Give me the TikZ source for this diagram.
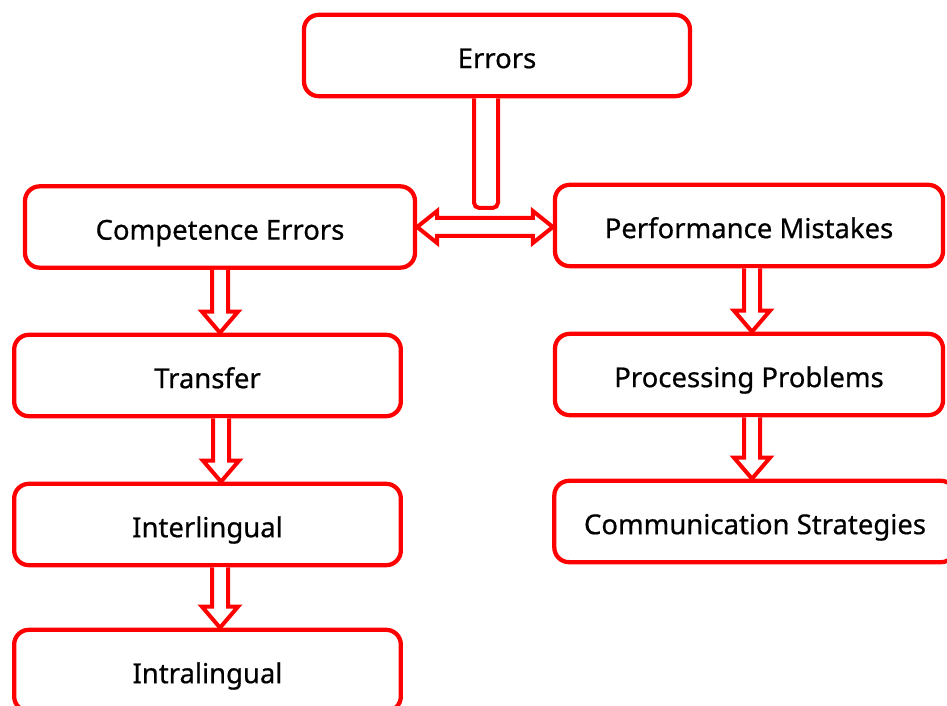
\documentclass[tikz,border=0pt]{standalone}
\usepackage{fontspec}
\setmainfont{Noto Sans}[FakeBold=0.6]
\usepackage{tikz}
\usetikzlibrary{calc}

\newcommand{\hollowdown}[3]{%
  \path (#3,0) coordinate (ax);
  \coordinate (s) at (ax |- #1.south);
  \coordinate (t) at (ax |- #2.north);
  \draw[hollow] ($(s)+(-8,0)$) -- ($(t)+(-8,-21)$) -- ($(t)+(-18,-21)$) -- (t)
    -- ($(t)+(18,-21)$) -- ($(t)+(8,-21)$) -- ($(s)+(8,0)$);
}

\begin{document}
\begin{tikzpicture}[x=0.75pt,y=-0.75pt,
          box/.style={draw=red,line width=3.2pt,rounded corners=11pt,fill=white,
            minimum width=#1,minimum height=61pt,inner sep=0pt,
            text height=19pt,text depth=0pt,
            font=\fontsize{20.6pt}{24pt}\selectfont},
          hollow/.style={draw=red,line width=3pt,line join=miter,fill=white}]
          \fill[white] (0,0) rectangle (947,706);
          \useasboundingbox (0,0) rectangle (947,706);
          \node[box=289.5pt] (E) at (497,55.5) {Errors};
          \node[box=292.5pt] (CE) at (220,227) {Competence Errors};
          \node[box=290pt] (T) at (207.5,375.5) {Transfer};
          \node[box=290pt] (IE) at (207.5,524.5) {Interlingual};
          \node[box=290pt] (IA) at (207.5,670.5) {Intralingual};
          \node[box=291pt] (PM) at (749,225.5) {Performance Mistakes};
          \node[box=291pt] (PP) at (749,374.5) {Processing Problems};
          \node[box=301pt] (CS) at (755,521.5) {Communication Strategies};
          \hollowdown{CE}{T}{220}
          \hollowdown{T}{IE}{221}
          \hollowdown{IE}{IA}{220}
          \hollowdown{PM}{PP}{752}
          \hollowdown{PP}{CS}{752}
          \coordinate (l) at (CE.east);
          \coordinate (r) at (l -| PM.west);
          \draw[hollow] (l) -- ($(l)+(20,-16)$) -- ($(l)+(20,-9)$) -- ($(r)+(-20,-9)$)
            -- ($(r)+(-20,-16)$) -- (r) -- ($(r)+(-20,16)$) -- ($(r)+(-20,9)$)
            -- ($(l)+(20,9)$) -- ($(l)+(20,16)$) -- cycle;
          \coordinate (J) at (486,208);
          \path (474,0) coordinate (sl) (498,0) coordinate (sr);
          \draw[hollow,rounded corners=4pt] (sl |- E.south) -- (sl |- J) -- (sr |- J) -- (sr |- E.south);
        \end{tikzpicture}
\end{document}
